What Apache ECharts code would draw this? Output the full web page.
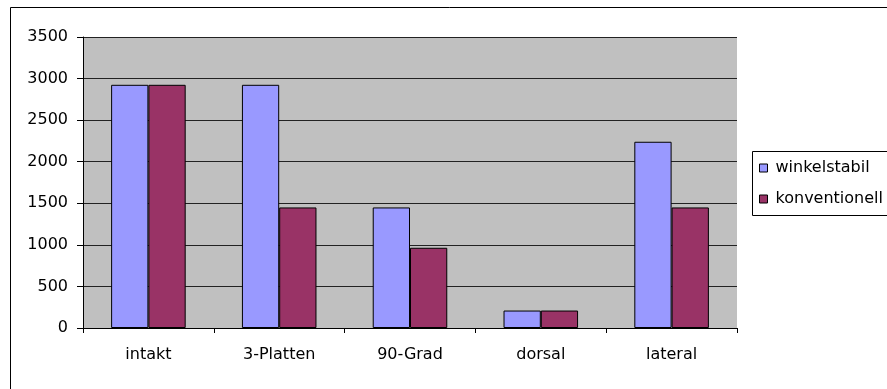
<!DOCTYPE html>
<html>
<head>
<meta charset="utf-8">
<script src="https://cdn.jsdelivr.net/npm/echarts@6/dist/echarts.min.js"></script>
<style>
  html, body { margin: 0; padding: 0; background: #fff; }
  #chart { width: 887px; height: 389px; }
</style>
</head>
<body>
<div id="chart"></div>
<script>
// Categories and the two measurement series
const categories = ['intakt', '3-Platten', '90-Grad', 'dorsal', 'lateral'];
const winkelstabil = [2925, 2925, 1450, 210, 2240];
const konventionell = [2925, 1450, 965, 210, 1450];
const yTicks = { min: 0, max: 3500, interval: 500 };

const FONT = 'DejaVu Sans';
const chart = echarts.init(document.getElementById('chart'), null, { renderer: 'canvas' });

chart.setOption({
  backgroundColor: '#ffffff',
  animation: false,
  textStyle: { fontFamily: FONT, fontSize: 16, color: '#000' },
  grid: {
    left: 83, right: 150, top: 37, bottom: 61,
    containLabel: false,
    show: true,
    backgroundColor: '#c0c0c0',
    borderWidth: 0
  },
  legend: {
    orient: 'vertical',
    left: 759,
    top: 160,
    padding: 0,
    itemGap: 15,
    itemWidth: 8,
    itemHeight: 8,
    icon: 'rect',
    itemStyle: { borderColor: '#000', borderWidth: 1 },
    textStyle: { fontFamily: FONT, fontSize: 16, color: '#000', lineHeight: 16, padding: [0, 0, 0, 3] },
    data: ['winkelstabil', 'konventionell']
  },
  graphic: [
    // outer chart frame
    { type: 'rect', left: 8, top: 5, z: -1, silent: true,
      shape: { x: 0.5, y: 0.5, width: 900, height: 400 },
      style: { fill: null, stroke: '#000', lineWidth: 1 } },
    // legend frame
    { type: 'rect', left: 752, top: 151, z: 0, silent: true,
      shape: { x: 0.5, y: 0.5, width: 150, height: 64 },
      style: { fill: '#fff', stroke: '#000', lineWidth: 1 } }
  ],
  xAxis: {
    type: 'category',
    data: categories,
    axisLine: { lineStyle: { color: '#000', width: 1 } },
    axisTick: { show: true, alignWithLabel: false, length: 5, lineStyle: { color: '#000' } },
    axisLabel: { margin: 19, fontFamily: FONT, fontSize: 16, color: '#000' },
    splitLine: { show: false }
  },
  yAxis: {
    type: 'value',
    min: yTicks.min,
    max: yTicks.max,
    interval: yTicks.interval,
    axisLine: { show: true, lineStyle: { color: '#000', width: 1 } },
    axisTick: { show: true, length: 6, lineStyle: { color: '#000' } },
    axisLabel: { margin: 15, fontFamily: FONT, fontSize: 16, color: '#000',
      formatter: v => String(v) },
    splitLine: { show: true, lineStyle: { color: '#222', width: 1 } }
  },
  series: [
    {
      name: 'winkelstabil',
      type: 'bar',
      data: winkelstabil,
      barGap: '0%',
      barCategoryGap: '43%',
      itemStyle: { color: '#9999ff', borderColor: '#000', borderWidth: 1 }
    },
    {
      name: 'konventionell',
      type: 'bar',
      data: konventionell,
      itemStyle: { color: '#993366', borderColor: '#000', borderWidth: 1 }
    }
  ]
});
</script>
</body>
</html>
